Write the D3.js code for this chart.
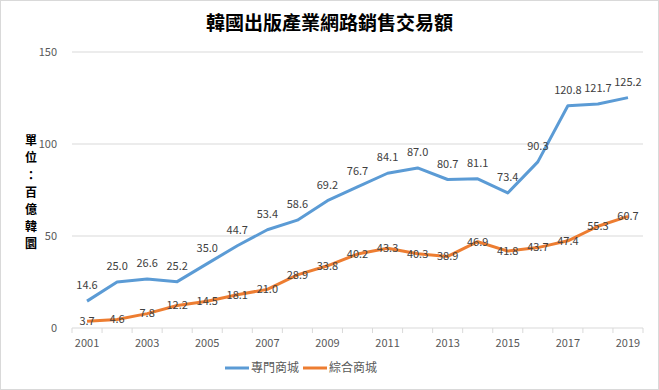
<!DOCTYPE html>
<html>
<head>
<meta charset="utf-8">
<script src="https://cdn.jsdelivr.net/npm/d3@7"></script>
<style>
  body { margin: 0; background: #fff; }
  svg { display: block; }
</style>
</head>
<body>
<div id="chart"></div>
<script>
var years = ["2001","2002","2003","2004","2005","2006","2007","2008","2009","2010",
             "2011","2012","2013","2014","2015","2016","2017","2018","2019"];
var zhuanmen = [14.6, 25.0, 26.6, 25.2, 35.0, 44.7, 53.4, 58.6, 69.2, 76.7,
                84.1, 87.0, 80.7, 81.1, 73.4, 90.3, 120.8, 121.7, 125.2];
var zonghe = [3.7, 4.6, 7.8, 12.2, 14.5, 18.1, 21.0, 28.9, 33.8, 40.2,
              43.3, 40.3, 38.9, 46.9, 41.8, 43.7, 47.4, 55.3, 60.7];
var yTicks = [0, 50, 100, 150];
var seriesNames = ["專門商城", "綜合商城"];

var W = 659, H = 390;
var margin = {top: 52, right: 16, bottom: 62, left: 72};
var width = W - margin.left - margin.right,
    height = H - margin.top - margin.bottom;

var font = "'Noto Sans CJK TC', 'Noto Sans', sans-serif";

var svg = d3.select("#chart").append("svg")
    .attr("width", W)
    .attr("height", H);

// outer border
svg.append("rect")
    .attr("x", 0.5).attr("y", 0.5)
    .attr("width", W - 1).attr("height", H - 1)
    .attr("fill", "#fff")
    .attr("stroke", "#d9d9d9");

var g = svg.append("g")
    .attr("transform", "translate(" + margin.left + "," + margin.top + ")");

var x = d3.scaleBand().domain(years).range([0, width]);
var y = d3.scaleLinear().domain([0, 150]).range([height, 0]);
var cx = function(d, i) { return x(years[i]) + x.bandwidth() / 2; };

// gridlines
g.append("g")
    .selectAll("line")
    .data(yTicks.slice(1))
    .enter().append("line")
    .attr("x1", 0).attr("x2", width)
    .attr("y1", function(d) { return y(d); })
    .attr("y2", function(d) { return y(d); })
    .attr("stroke", "#d9d9d9");

// y tick labels
g.append("g")
    .selectAll("text")
    .data(yTicks)
    .enter().append("text")
    .attr("x", -15)
    .attr("y", function(d) { return y(d); })
    .attr("dy", "0.35em")
    .attr("text-anchor", "end")
    .style("font-family", font)
    .style("font-size", "11px")
    .style("fill", "#595959")
    .text(function(d) { return d; });

// x axis
var xAxis = g.append("g")
    .attr("transform", "translate(0," + height + ")");
xAxis.append("line")
    .attr("x1", 0).attr("x2", width)
    .attr("stroke", "#d9d9d9");
xAxis.selectAll("line.tick")
    .data(d3.range(years.length + 1))
    .enter().append("line")
    .attr("class", "tick")
    .attr("x1", function(i) { return i * x.bandwidth(); })
    .attr("x2", function(i) { return i * x.bandwidth(); })
    .attr("y1", 0).attr("y2", 5)
    .attr("stroke", "#d9d9d9");
xAxis.selectAll("text")
    .data(years.filter(function(d, i) { return i % 2 === 0; }))
    .enter().append("text")
    .attr("x", function(d) { return x(d) + x.bandwidth() / 2; })
    .attr("y", 19)
    .attr("text-anchor", "middle")
    .style("font-family", font)
    .style("font-size", "11px")
    .style("fill", "#595959")
    .text(function(d) { return d; });

var line = d3.line()
    .x(cx)
    .y(function(d) { return y(d); });

var colors = ["#5b9bd5", "#ed7d31"];

[zhuanmen, zonghe].forEach(function(data, k) {
  g.append("path")
      .datum(data)
      .attr("fill", "none")
      .attr("stroke", colors[k])
      .attr("stroke-width", 3)
      .attr("stroke-linejoin", "round")
      .attr("d", line);
});

// data labels
g.append("g")
    .selectAll("text")
    .data(zhuanmen)
    .enter().append("text")
    .attr("x", cx)
    .attr("y", function(d) { return y(d) - 12; })
    .attr("text-anchor", "middle")
    .style("font-family", font)
    .style("font-size", "11px")
    .style("fill", "#404040")
    .text(function(d) { return d.toFixed(1); });

g.append("g")
    .selectAll("text")
    .data(zonghe)
    .enter().append("text")
    .attr("x", cx)
    .attr("y", function(d) { return y(d); })
    .attr("dy", "0.35em")
    .attr("text-anchor", "middle")
    .style("font-family", font)
    .style("font-size", "11px")
    .style("fill", "#404040")
    .text(function(d) { return d.toFixed(1); });

// title
svg.append("text")
    .attr("x", W / 2)
    .attr("y", 30)
    .attr("text-anchor", "middle")
    .style("font-family", font)
    .style("font-size", "19px")
    .style("font-weight", "bold")
    .style("fill", "#000")
    .text("韓國出版產業網路銷售交易額");

// y axis title, stacked vertically
var yTitle = "單位：百億韓圜".split("");
svg.append("g")
    .selectAll("text")
    .data(yTitle)
    .enter().append("text")
    .attr("x", 31)
    .attr("y", function(d, i) { return 141 + i * 17.2; })
    .attr("dy", "0.35em")
    .attr("text-anchor", "middle")
    .style("font-family", font)
    .style("font-size", "12px")
    .style("font-weight", "bold")
    .style("fill", "#000")
    .text(function(d) { return d; });

// legend
var legend = svg.append("g");
var legendX = [225, 303];
seriesNames.forEach(function(name, k) {
  legend.append("line")
      .attr("x1", legendX[k]).attr("x2", legendX[k] + 24)
      .attr("y1", 368).attr("y2", 368)
      .attr("stroke", colors[k])
      .attr("stroke-width", 3);
  legend.append("text")
      .attr("x", legendX[k] + 26)
      .attr("y", 368)
      .attr("dy", "0.35em")
      .style("font-family", font)
      .style("font-size", "12px")
      .style("fill", "#595959")
      .text(name);
});
</script>
</body>
</html>
